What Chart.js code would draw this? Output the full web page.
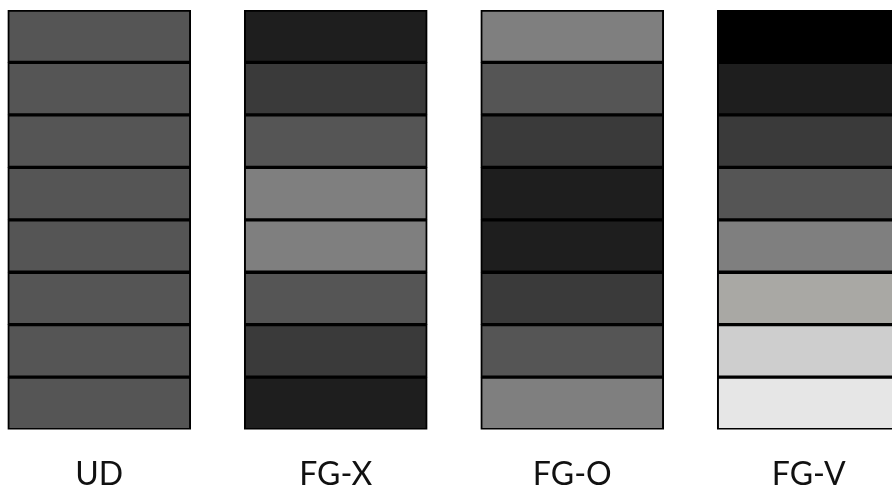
<!DOCTYPE html>
<html>
<head>
<meta charset="utf-8">
<script src="https://cdn.jsdelivr.net/npm/chart.js@4"></script>
<style>
  html, body { margin: 0; padding: 0; background: #fff; overflow: hidden; }
  #wrap { position: absolute; left: -19px; top: 0; width: 946px; height: 512px; }
</style>
</head>
<body>
<div id="wrap"><canvas id="myChart"></canvas></div>
<script>
// categories along the x axis
const categories = ['UD', 'FG-X', 'FG-O', 'FG-V'];

// each column is 8 equal cells (top to bottom)
const cellValues = [1, 1, 1, 1, 1, 1, 1, 1];

// cell shades, top to bottom, per column
const shadesUD  = ['#555555', '#555555', '#555555', '#555555', '#555555', '#555555', '#555555', '#555555'];
const shadesFGX = ['#1e1e1e', '#3a3a3a', '#555555', '#7f7f7f', '#7f7f7f', '#555555', '#3a3a3a', '#1e1e1e'];
const shadesFGO = ['#7f7f7f', '#555555', '#3a3a3a', '#1e1e1e', '#1e1e1e', '#3a3a3a', '#555555', '#7f7f7f'];
const shadesFGV = ['#000000', '#1e1e1e', '#3a3a3a', '#555555', '#7f7f7f', '#a9a8a4', '#cecece', '#e6e6e6'];

const shades = [shadesUD, shadesFGX, shadesFGO, shadesFGV];

// stacked bars are built bottom-up, so walk the cells from the last one
const datasets = [];
for (let i = cellValues.length - 1; i >= 0; i--) {
    datasets.push({
        data: categories.map(() => cellValues[i]),
        backgroundColor: shades.map(s => s[i]),
        borderColor: '#000000',
        borderWidth: 2,
        borderSkipped: false,
        barThickness: 183
    });
}

const ctx = document.getElementById('myChart').getContext('2d');
const myChart = new Chart(ctx, {
    type: 'bar',
    data: {
        labels: categories,
        datasets: datasets
    },
    options: {
        responsive: true,
        maintainAspectRatio: false,
        animation: false,
        layout: { padding: { top: 10, bottom: 0, left: 0, right: 0 } },
        plugins: {
            legend: { display: false },
            tooltip: { enabled: false }
        },
        scales: {
            x: {
                stacked: true,
                grid: { display: false },
                border: { display: false },
                ticks: {
                    color: '#111',
                    padding: 18,
                    font: { family: 'Lato', size: 32 }
                }
            },
            y: {
                stacked: true,
                display: false,
                min: 0,
                max: 8
            }
        }
    }
});
</script>
</body>
</html>
